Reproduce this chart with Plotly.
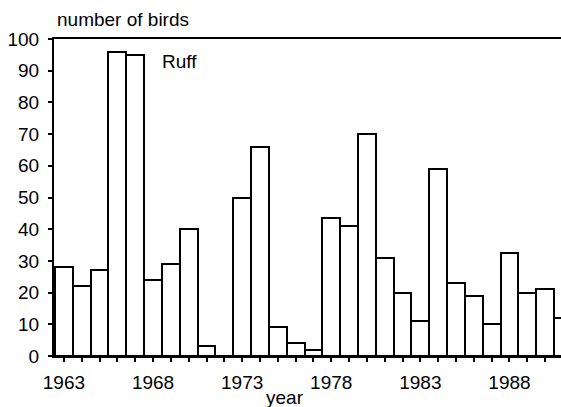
import plotly.graph_objects as go

years = list(range(1963, 1992))
birds = [28, 22, 27, 96, 95, 24, 29, 40, 3, 0, 50, 66, 9, 4, 2, 43.5, 41,
         70, 31, 20, 11, 59, 23, 19, 10, 32.5, 20, 21, 12]
tick_years = [1963, 1968, 1973, 1978, 1983, 1988]
tick_labels = [str(y) for y in tick_years]

FONT = "Liberation Sans, Arial, Helvetica, sans-serif"

fig = go.Figure()
fig.add_trace(go.Bar(
    x=years, y=birds, width=1,
    marker=dict(color="white", line=dict(color="black", width=2)),
    showlegend=False, hoverinfo="x+y",
))

fig.update_layout(
    width=561, height=407,
    margin=dict(l=54, r=0, t=39, b=51),
    paper_bgcolor="white", plot_bgcolor="white",
    font=dict(family=FONT, size=19, color="black"),
    bargap=0,
    xaxis=dict(
        range=[1962.444, 1990.89],
        tickmode="array", tickvals=tick_years, ticktext=tick_labels,
        ticks="outside", ticklen=4, tickwidth=1.5, tickcolor="black",
        minor=dict(dtick=1, tick0=1963, ticks="outside", ticklen=4,
                   tickwidth=1.5, tickcolor="black", showgrid=False),
        showline=True, linecolor="black", linewidth=2, mirror=True,
        showgrid=False, zeroline=False,
        tickfont=dict(size=19, family=FONT, color="black"),
        ticklabelstandoff=4,
    ),
    yaxis=dict(
        range=[0, 100], tickmode="linear", tick0=0, dtick=10,
        ticks="outside", ticklen=4, tickwidth=1.5, tickcolor="black",
        showline=True, linecolor="black", linewidth=2,
        showgrid=False, zeroline=False,
        tickfont=dict(size=19, family=FONT, color="black"),
        ticklabelstandoff=5,
    ),
    annotations=[
        dict(text="number of birds", xref="paper", yref="paper",
             x=0.002, y=1.06, xanchor="left", yanchor="middle",
             showarrow=False, font=dict(size=19, family=FONT, color="black")),
        dict(text="Ruff", xref="x", yref="y", x=1969.46, y=92.8,
             xanchor="center", yanchor="middle", showarrow=False,
             font=dict(size=19, family=FONT, color="black")),
        dict(text="year", xref="paper", yref="paper", x=0.4556, y=-0.132,
             xanchor="center", yanchor="middle", showarrow=False,
             font=dict(size=19, family=FONT, color="black")),
    ],
)

fig.write_html(
    "out.html",
    config={"displayModeBar": False},
    post_script="document.body.style.margin='0';document.body.style.overflow='hidden';",
)
